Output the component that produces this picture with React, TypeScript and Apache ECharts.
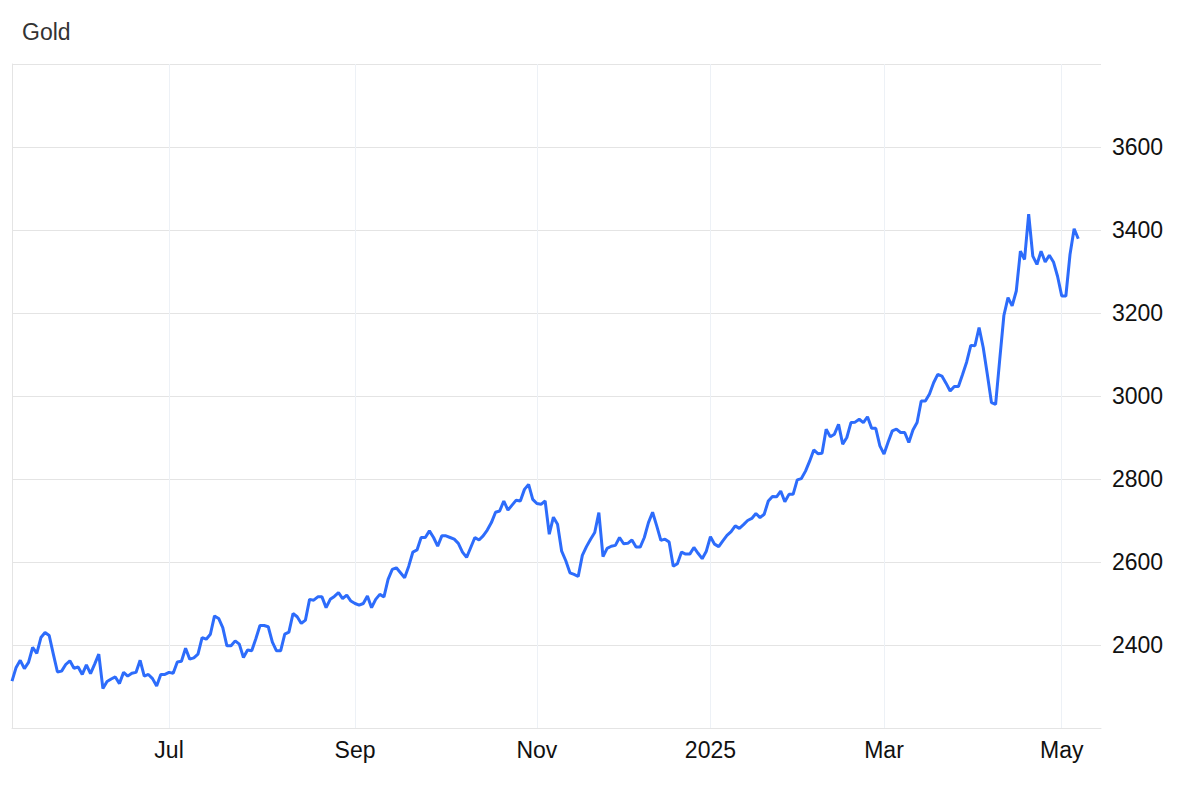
import React, { useEffect, useRef } from "react";
import * as echarts from "echarts";

// Trading calendar (weekdays, minus market closures)
const startDate = "2024-05-08";
const endDate = "2025-05-07";
const closedDays = ["2024-12-25", "2025-01-01"];

// Gold price, one value per trading day (USD/oz)
const goldPrices = [
  2313, 2346, 2363, 2343, 2358, 2394, 2380, 2418, 2430, 2423,
  2378, 2335, 2337, 2353, 2362, 2344, 2347, 2329, 2352, 2331,
  2354, 2378, 2295, 2312, 2318, 2323, 2307, 2334, 2325, 2332,
  2334, 2363, 2325, 2329, 2319, 2301, 2329, 2329, 2334, 2332,
  2359, 2361, 2392, 2366, 2369, 2378, 2418, 2414, 2426, 2470,
  2464, 2442, 2398, 2398, 2410, 2402, 2370, 2388, 2386, 2415,
  2447, 2447, 2444, 2407, 2386, 2386, 2426, 2431, 2476, 2468,
  2452, 2460, 2510, 2508, 2516, 2516, 2490, 2510, 2517, 2526,
  2512, 2520, 2506, 2500, 2496, 2500, 2518, 2490, 2510, 2522,
  2516, 2558, 2582, 2586, 2574, 2562, 2590, 2624, 2629, 2659,
  2659, 2675, 2659, 2638, 2663, 2663, 2659, 2655, 2645, 2624,
  2611, 2635, 2659, 2653, 2663, 2677, 2695, 2720, 2723, 2747,
  2725, 2737, 2749, 2747, 2775, 2787, 2751, 2741, 2739, 2747,
  2667, 2708, 2691, 2626, 2603, 2574, 2570, 2565, 2616, 2637,
  2655, 2671, 2719, 2613, 2633, 2638, 2640, 2659, 2644, 2645,
  2653, 2636, 2636, 2659, 2695, 2720, 2687, 2652, 2655, 2648,
  2590, 2596, 2624, 2619, 2619, 2635, 2621, 2608, 2626, 2661,
  2643, 2637, 2651, 2664, 2673, 2687, 2681, 2690, 2700, 2705,
  2717, 2707, 2715, 2747, 2758, 2757, 2771, 2745, 2763, 2763,
  2798, 2801, 2819, 2843, 2870, 2861, 2862, 2920, 2902, 2908,
  2932, 2884, 2900, 2936, 2937, 2944, 2936, 2950, 2922, 2922,
  2880, 2860, 2889, 2916, 2920, 2912, 2912, 2888, 2918, 2936,
  2988, 2988, 3005, 3032, 3052, 3048, 3031, 3012, 3023, 3023,
  3052, 3082, 3122, 3121, 3165, 3117, 3052, 2984, 2980, 3088,
  3194, 3237, 3217, 3253, 3349, 3329, 3438, 3337, 3317, 3349,
  3323, 3339, 3323, 3288, 3241, 3241, 3341, 3403, 3379,
];

// X-axis labels: first trading day of every other month
const monthTickDates = ["2024-07-01", "2024-09-02", "2024-11-01", "2025-01-02", "2025-03-03", "2025-05-01"];
const monthTickLabels = ["Jul", "Sep", "Nov", "2025", "Mar", "May"];

// Y-axis
const yMin = 2200;
const yMax = 3800;
const yStep = 200;
const yLabelValues = [2400, 2600, 2800, 3000, 3200, 3400, 3600];

// Empty trading-day slots shown after the last value
const trailingSlots = 5.5;

const FONT = "'Liberation Sans', Arial, Helvetica, sans-serif";

function buildTradingDays(): string[] {
  const out: string[] = [];
  const d = new Date(startDate + "T00:00:00Z");
  const end = new Date(endDate + "T00:00:00Z");
  while (d.getTime() <= end.getTime()) {
    const wd = d.getUTCDay();
    const s = d.toISOString().slice(0, 10);
    if (wd !== 0 && wd !== 6 && closedDays.indexOf(s) < 0) out.push(s);
    d.setUTCDate(d.getUTCDate() + 1);
  }
  return out;
}

export default function App() {
  const ref = useRef<HTMLDivElement>(null);

  useEffect(() => {
    if (!ref.current) return;
    const chart = echarts.init(ref.current, undefined, { renderer: "svg" });
    const days = buildTradingDays();
    const seriesData = days.map((day, i) => [i, goldPrices[i]]);
    const tickIdx = monthTickDates.map((d) => days.indexOf(d));

    chart.setOption({
      animation: false,
      backgroundColor: "#ffffff",
      title: {
        text: "Gold",
        left: 22,
        top: 20,
        padding: 0,
        textStyle: { fontFamily: FONT, fontSize: 23, fontWeight: "normal", color: "#333333" },
      },
      grid: { left: 12, right: 99, top: 64, bottom: 58, containLabel: false },
      xAxis: {
        type: "value",
        min: 0,
        max: days.length - 1 + trailingSlots,
        axisLine: { show: true, lineStyle: { color: "#e4e4e4", width: 1 } },
        axisTick: { show: false, customValues: tickIdx },
        axisLabel: {
          customValues: tickIdx,
          formatter: (v: number) => {
            const k = tickIdx.indexOf(Math.round(v));
            return k >= 0 ? monthTickLabels[k] : "";
          },
          fontFamily: FONT,
          fontSize: 23,
          color: "#111111",
          margin: 10,
        },
        splitLine: { show: true, lineStyle: { color: "#edf1f6", width: 1 } },
      },
      yAxis: {
        type: "value",
        position: "right",
        min: yMin,
        max: yMax,
        interval: yStep,
        axisLine: { show: true, lineStyle: { color: "#e4e4e4", width: 1 } },
        axisTick: { show: true, length: 7, lineStyle: { color: "#e4e4e4" } },
        axisLabel: {
          formatter: (v: number) => (yLabelValues.indexOf(v) >= 0 ? String(v) : ""),
          fontFamily: FONT,
          fontSize: 23,
          color: "#111111",
          margin: 11,
        },
        splitLine: { show: true, lineStyle: { color: "#e4e4e4", width: 1 } },
      },
      series: [
        {
          type: "line",
          data: seriesData,
          showSymbol: false,
          symbol: "none",
          lineStyle: { color: "#2d6cfb", width: 3 },
          emphasis: { disabled: true },
        },
      ],
    });

    return () => chart.dispose();
  }, []);

  return (
    <div
      ref={ref}
      style={{ position: "absolute", left: 0, top: 0, width: 1200, height: 786, background: "#fff" }}
    />
  );
}
